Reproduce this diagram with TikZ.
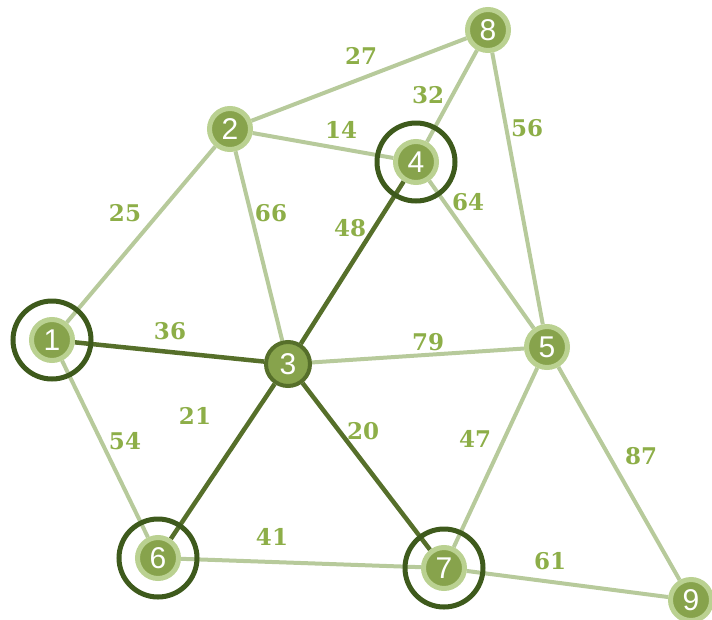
\documentclass[tikz,border=0pt]{standalone}
\usepackage{xcolor}
\usepackage{fontspec}
\setmainfont{DejaVu Serif}
\newfontfamily\vertfont{Liberation Sans}
\usepackage{tikz}
\usetikzlibrary{backgrounds}

\definecolor{vertfill}{HTML}{87A34C}
\definecolor{vertring}{HTML}{BAD191}
\definecolor{edgelight}{HTML}{B7CA9B}
\definecolor{edgedark}{HTML}{566F2A}
\definecolor{pickring}{HTML}{3E5A1C}
\definecolor{wtcol}{HTML}{8DAE48}

\tikzset{
  vert/.style={circle, fill=vertfill, draw=vertring, line width=5pt, minimum size=41pt,
    inner sep=0pt, text=white, font=\vertfont\fontsize{30}{30}\selectfont},
  hub/.style={vert, draw=edgedark, line width=4pt, minimum size=44pt},
  pick/.style={circle, draw=pickring, line width=5pt, minimum size=78pt, inner sep=0pt},
  wt/.style={text=wtcol, font=\bfseries\fontsize{23}{23}\selectfont, inner sep=1pt},
  light/.style={draw=edgelight, line width=4pt},
  heavy/.style={draw=edgedark, line width=4.5pt},
}

\begin{document}
\begin{tikzpicture}[x=1pt, y=-1pt]
\useasboundingbox (0,0) rectangle (712,619);

% vertices
\node[vert] (n1) at (52,340) {1};
\node[vert] (n2) at (230,129) {2};
\node[hub]  (n3) at (288,364) {3};
\node[vert] (n4) at (416,162) {4};
\node[vert] (n5) at (547,347) {5};
\node[vert] (n6) at (158,558) {6};
\node[vert] (n7) at (444,568) {7};
\node[vert] (n8) at (488,30) {8};
\node[vert] (n9) at (691,600) {9};

% edges
\begin{pgfonlayer}{background}
\draw[light] (n2) -- (n8);
\draw[light] (n2) -- (n4);
\draw[light] (n8) -- (n4);
\draw[light] (n8) -- (n5);
\draw[light] (n1) -- (n2);
\draw[light] (n2) -- (n3);
\draw[light] (n4) -- (n5);
\draw[light] (n3) -- (n5);
\draw[light] (n1) -- (n6);
\draw[light] (n5) -- (n7);
\draw[light] (n5) -- (n9);
\draw[light] (n6) -- (n7);
\draw[light] (n7) -- (n9);
\draw[heavy] (n1) -- (n3);
\draw[heavy] (n3) -- (n4);
\draw[heavy] (n3) -- (n6);
\draw[heavy] (n3) -- (n7);
\end{pgfonlayer}

% chosen vertices
\node[pick] (p1) at (n1) {};
\node[pick] (p4) at (n4) {};
\node[pick] (p6) at (n6) {};
\node[pick] (p7) at (n7) {};

% weights
\node[wt] (w27) at (361,56) {27};
\node[wt] (w32) at (428,95) {32};
\node[wt] (w14) at (341,130) {14};
\node[wt] (w56) at (527,128) {56};
\node[wt] (w25) at (125,213) {25};
\node[wt] (w66) at (271,213) {66};
\node[wt] (w48) at (350,228) {48};
\node[wt] (w64) at (468,202) {64};
\node[wt] (w36) at (170,331) {36};
\node[wt] (w79) at (428,342) {79};
\node[wt] (w21) at (195,416) {21};
\node[wt] (w20) at (363,431) {20};
\node[wt] (w54) at (125,441) {54};
\node[wt] (w47) at (475,439) {47};
\node[wt] (w87) at (641,456) {87};
\node[wt] (w41) at (272,537) {41};
\node[wt] (w61) at (550,561) {61};
\end{tikzpicture}
\end{document}
